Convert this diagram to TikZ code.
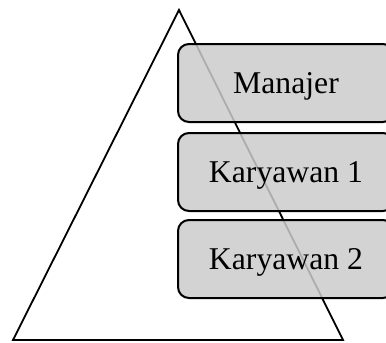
\documentclass[tikz,border=0pt]{standalone}
\usepackage{fontspec}
\setmainfont{Liberation Serif}
\definecolor{boxfill}{RGB}{203,203,203}
\begin{document}
\begin{tikzpicture}[x=1pt,y=-1pt,
  level/.style={draw=black, line width=2pt, rounded corners=11pt, fill=boxfill, fill opacity=0.85, text opacity=1,
    minimum width=216pt, minimum height=78pt, inner sep=0pt, text height=21pt, text depth=0pt,
    font=\fontsize{31.7}{38}\selectfont},
  tri/.style={draw=black, line width=1.8pt, line join=miter}]
\useasboundingbox (0,0) rectangle (386,343);
\clip (0,0) rectangle (386,343);
\coordinate (apex) at (179,10);
\coordinate (bl) at (13,340);
\coordinate (br) at (343,340);
\draw[tri] (apex) -- (br) -- (bl) -- cycle;
\node[level] (m) at (286,83) {Manajer};
\node[level] (k1) at (286,172) {Karyawan 1};
\node[level] (k2) at (286,259) {Karyawan 2};
\end{tikzpicture}
\end{document}
